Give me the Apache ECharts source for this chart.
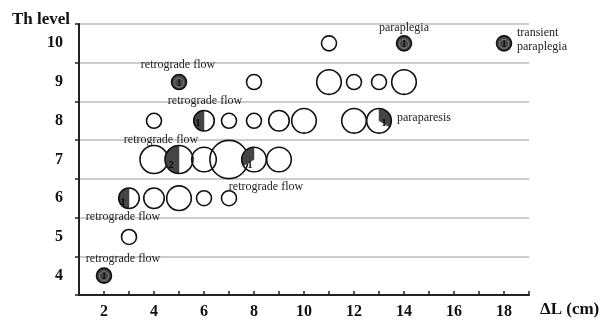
<!DOCTYPE html>
<html>
<head>
<meta charset="utf-8">
<script src="https://cdn.jsdelivr.net/npm/echarts@6/dist/echarts.min.js"></script>
<style>html,body{margin:0;padding:0;background:#fff}#c{width:606px;height:320px}</style>
</head>
<body>
<div id="c"></div>
<script>
// ---- data ----
const levels = ['4', '5', '6', '7', '8', '9', '10'];          // Th level categories
const xTickLabels = [2, 4, 6, 8, 10, 12, 14, 16, 18];          // ΔL labels shown
const deltaL   = [11, 14, 18,  5, 8, 11, 12, 13, 14,  4, 6, 7, 8, 9, 10, 12, 13,  4, 5, 6, 7, 8, 9,  3, 4, 5, 6, 7,  3,  2];
const thLevel  = [10, 10, 10,  9, 9,  9,  9,  9,  9,  8, 8, 8, 8, 8,  8,  8,  8,  7, 7, 7, 7, 7, 7,  6, 6, 6, 6, 6,  5,  4];
const patients = [ 1,  1,  1,  1, 1,  3,  1,  1,  3,  1, 2, 1, 1, 2,  3,  3,  3,  4, 4, 3, 8, 3, 3,  2, 2, 3, 1, 1,  1,  1];
const events   = [ 0,  1,  1,  1, 0,  0,  0,  0,  0,  0, 1, 0, 0, 0,  0,  0,  1,  0, 2, 0, 0, 1, 0,  1, 0, 0, 0, 0,  0,  1];
const notes    = [null, 'paraplegia', 'transient\nparaplegia', 'retrograde flow', null, null, null, null, null,
                  null, 'retrograde flow', null, null, null, null, null, 'paraparesis',
                  null, 'retrograde flow', null, null, 'retrograde flow', null,
                  'retrograde flow', null, null, null, null, null, 'retrograde flow'];

// ---- layout / style (not data) ----
const noteLayout = {
  1:  {dx: 0,   dy: -16, align: 'center'},
  2:  {dx: 13,  dy: -4,  align: 'left'},
  3:  {dx: -1,  dy: -17, align: 'center'},
  10: {dx: 1,   dy: -20, align: 'center'},
  16: {dx: 18,  dy: -3,  align: 'left'},
  18: {dx: -18, dy: -20, align: 'center'},
  21: {dx: 12,  dy: 27,  align: 'center'},
  23: {dx: -6,  dy: 19,  align: 'center'},
  29: {dx: 19,  dy: -17, align: 'center'}
};
const numOffset = {10: [-6, 2], 16: [5, 2], 18: [-8, 5], 21: [-4, 5], 23: [-6, 3]};
const clockwiseWedge = {16: true};
const DARK = '#454545';
const SERIF = '"Liberation Serif","Times New Roman",serif';

const rows = deltaL.map((x, i) => [x, levels.indexOf(String(thLevel[i])), patients[i], events[i]]);

const chart = echarts.init(document.getElementById('c'), null, {renderer: 'canvas'});
chart.setOption({
  animation: false,
  backgroundColor: '#fff',
  grid: {left: 79, right: 77, top: 24, bottom: 23},
  xAxis: {
    type: 'value', min: 1, max: 19, interval: 1,
    axisLine: {show: true, lineStyle: {color: '#222', width: 2}},
    axisTick: {show: true, inside: true, length: 4, lineStyle: {color: '#222', width: 1.5}},
    splitLine: {show: false},
    axisLabel: {
      margin: 9, color: '#111', fontFamily: SERIF, fontWeight: 'bold', fontSize: 16,
      formatter: v => xTickLabels.indexOf(v) >= 0 ? String(v) : ''
    }
  },
  yAxis: {
    type: 'category', data: levels, boundaryGap: true,
    axisLine: {show: true, lineStyle: {color: '#222', width: 2}},
    axisTick: {show: true, alignWithLabel: false, length: 4, lineStyle: {color: '#222', width: 1.5}},
    splitLine: {show: true, lineStyle: {color: '#bdbdbd', width: 1.5}},
    axisLabel: {margin: 16, color: '#111', fontFamily: SERIF, fontWeight: 'bold', fontSize: 16, padding: [6, 0, 0, 0]}
  },
  graphic: [
    {type: 'text', x: 70, y: 20, style: {text: 'Th level', fill: '#111', font: 'bold 17px ' + SERIF, align: 'right', verticalAlign: 'middle'}},
    {type: 'text', x: 540, y: 310, style: {text: 'ΔL (cm)', fill: '#111', font: 'bold 17px ' + SERIF, align: 'left', verticalAlign: 'middle'}}
  ],
  series: [{
    type: 'custom',
    data: rows,
    encode: {x: 0, y: 1},
    renderItem: function (params, api) {
      const i = params.dataIndex;
      const c = api.coord([api.value(0), api.value(1)]);
      const n = api.value(2), ev = api.value(3);
      const r = 7.5 * Math.pow(n, 0.45);
      const ch = [];
      const full = ev > 0 && ev >= n;
      if (ev > 0 && ev < n) {
        const frac = ev / n, a0 = -Math.PI / 2;
        const cw = !!clockwiseWedge[i];
        ch.push({type: 'sector', shape: {cx: c[0], cy: c[1], r0: 0, r: r,
          startAngle: a0, endAngle: cw ? a0 + frac * 2 * Math.PI : a0 - frac * 2 * Math.PI, clockwise: cw},
          style: {fill: DARK, stroke: DARK, lineWidth: 0.5}});
      }
      ch.push({type: 'circle', shape: {cx: c[0], cy: c[1], r: r},
        style: {fill: full ? DARK : 'none', stroke: '#111', lineWidth: 1.6}});
      if (ev > 0) {
        const o = numOffset[i] || [0, 0];
        if (full) {
          ch.push({type: 'circle', shape: {cx: c[0], cy: c[1] + 0.5, r: 4.6},
            style: {fill: 'none', stroke: '#8a8a8a', lineWidth: 0.8}});
        }
        ch.push({type: 'text', x: c[0] + o[0], y: c[1] + o[1] + 1,
          style: {text: String(ev), fill: '#0a0a0a', font: 'bold 10px ' + SERIF, align: 'center', verticalAlign: 'middle',
                  stroke: full ? '#777' : 'transparent', lineWidth: full ? 0.4 : 0}});
      }
      if (notes[i]) {
        const L = noteLayout[i];
        ch.push({type: 'text', x: c[0] + L.dx, y: c[1] + L.dy,
          style: {text: notes[i], fill: '#222', font: '12px ' + SERIF, align: L.align, verticalAlign: 'middle', lineHeight: 14}});
      }
      return {type: 'group', children: ch};
    }
  }]
});
</script>
</body>
</html>
